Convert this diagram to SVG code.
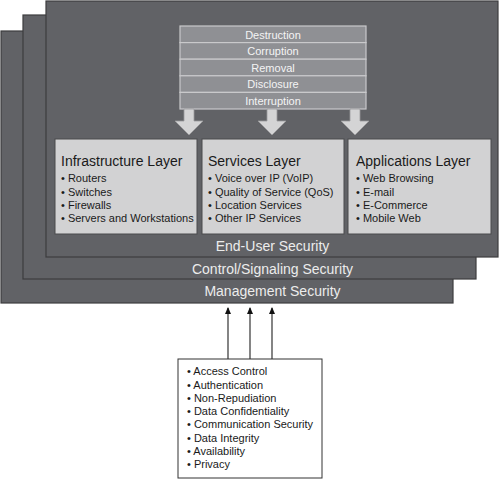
<svg xmlns="http://www.w3.org/2000/svg" width="500" height="480" viewBox="0 0 500 480">
<style>
.layer{fill:#616266;stroke:#3c3c3e;stroke-width:1.2}
.lt{font-family:"Liberation Sans",Arial,sans-serif;font-size:14px;fill:#ececec;text-anchor:middle}
.thr{fill:#8f9094;stroke:#c9c9cb;stroke-width:1.2}
.tt{font-family:"Liberation Sans",Arial,sans-serif;font-size:11px;fill:#f4f4f4;text-anchor:middle}
.box{fill:#d2d2d3;stroke:#4a4a4c;stroke-width:1}
.h{font-family:"Liberation Sans",Arial,sans-serif;font-size:14px;fill:#1a1a1a}
.b{font-family:"Liberation Sans",Arial,sans-serif;font-size:11px;fill:#1a1a1a}
.big{fill:#d4d4d5;stroke:#9a9a9c;stroke-width:0.8}
.con{stroke:#333;stroke-width:1.2;fill:none}
</style>
<defs>
<marker id="ah" markerWidth="8" markerHeight="8" refX="6" refY="4" orient="auto" markerUnits="userSpaceOnUse">
<path d="M0,1 L7,4 L0,7 Z" fill="#111"/>
</marker>
</defs>
<g id="management-security">
<rect class="layer" x="1" y="31" width="452" height="272"/>
<text class="lt" x="272.5" y="296">Management Security</text>
</g>
<g id="control-signaling-security">
<rect class="layer" x="23" y="15" width="453" height="264"/>
<text class="lt" x="272.5" y="274">Control/Signaling Security</text>
</g>
<g id="end-user-security">
<rect class="layer" x="46" y="1" width="452" height="256"/>
<text class="lt" x="272.5" y="251">End-User Security</text>
</g>
<g id="threats">
<rect class="thr" x="180" y="26" width="186" height="16.6"/>
<rect class="thr" x="180" y="42.6" width="186" height="16.6"/>
<rect class="thr" x="180" y="59.2" width="186" height="16.6"/>
<rect class="thr" x="180" y="75.8" width="186" height="16.6"/>
<rect class="thr" x="180" y="92.4" width="186" height="16.6"/>
<text class="tt" x="273" y="38.5">Destruction</text>
<text class="tt" x="273" y="55">Corruption</text>
<text class="tt" x="273" y="71.5">Removal</text>
<text class="tt" x="273" y="88">Disclosure</text>
<text class="tt" x="273" y="104.5">Interruption</text>
</g>
<g id="threat-arrows">
<path class="big" d="M184,109 H194 V121 H203 L189,135 L175,121 H184 Z"/>
<path class="big" d="M267,109 H277 V121 H286 L272,135 L258,121 H267 Z"/>
<path class="big" d="M350,109 H360 V121 H369 L355,135 L341,121 H350 Z"/>
</g>
<g id="infrastructure-layer">
<rect class="box" x="55" y="139" width="142" height="95"/>
<text class="h" x="61" y="166">Infrastructure Layer</text>
<text class="b" x="61" y="182">• Routers</text>
<text class="b" x="61" y="195.5">• Switches</text>
<text class="b" x="61" y="208.5">• Firewalls</text>
<text class="b" x="61" y="222">• Servers and Workstations</text>
</g>
<g id="services-layer">
<rect class="box" x="202" y="139" width="142" height="95"/>
<text class="h" x="208" y="166">Services Layer</text>
<text class="b" x="208" y="182">• Voice over IP (VoIP)</text>
<text class="b" x="208" y="195.5">• Quality of Service (QoS)</text>
<text class="b" x="208" y="208.5">• Location Services</text>
<text class="b" x="208" y="222">• Other IP Services</text>
</g>
<g id="applications-layer">
<rect class="box" x="348" y="139" width="143" height="95"/>
<text class="h" x="356" y="166">Applications Layer</text>
<text class="b" x="356" y="182">• Web Browsing</text>
<text class="b" x="356" y="195.5">• E-mail</text>
<text class="b" x="356" y="208.5">• E-Commerce</text>
<text class="b" x="356" y="222">• Mobile Web</text>
</g>
<g id="connectors">
<line class="con" x1="228" y1="359" x2="228" y2="308" marker-end="url(#ah)"/>
<line class="con" x1="250" y1="359" x2="250" y2="308" marker-end="url(#ah)"/>
<line class="con" x1="272" y1="359" x2="272" y2="308" marker-end="url(#ah)"/>
</g>
<g id="security-dimensions">
<rect x="178" y="359" width="144" height="119" fill="#fff" stroke="#333" stroke-width="1"/>
<text class="b" x="187" y="375">• Access Control</text>
<text class="b" x="187" y="388.5">• Authentication</text>
<text class="b" x="187" y="401.5">• Non-Repudiation</text>
<text class="b" x="187" y="415">• Data Confidentiality</text>
<text class="b" x="187" y="428">• Communication Security</text>
<text class="b" x="187" y="441.5">• Data Integrity</text>
<text class="b" x="187" y="455">• Availability</text>
<text class="b" x="187" y="468">• Privacy</text>
</g>
</svg>
